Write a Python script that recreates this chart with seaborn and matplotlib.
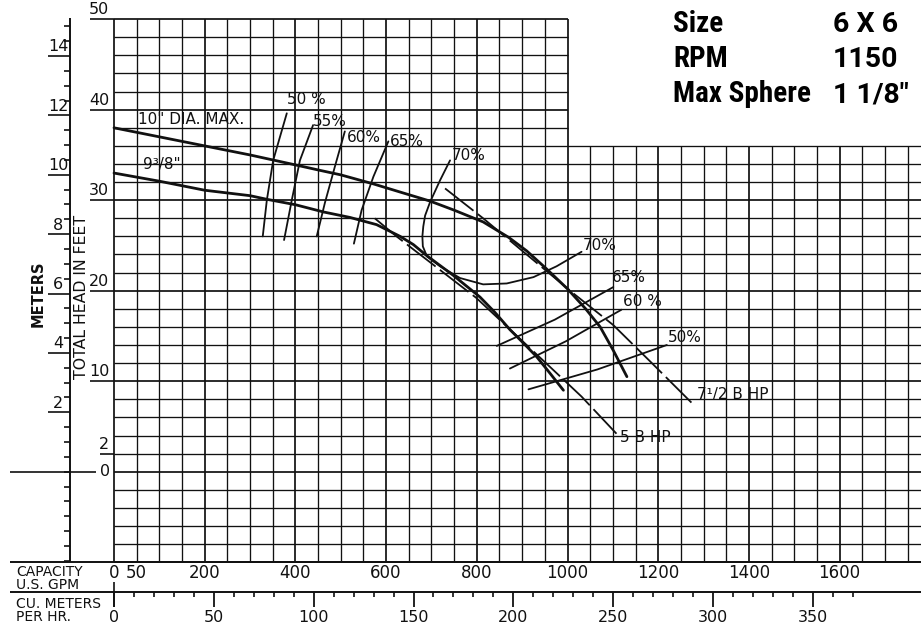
import numpy as np
import matplotlib
matplotlib.use("Agg")
import matplotlib.pyplot as plt
from matplotlib import font_manager as fm
import seaborn as sns

# ---------------- data (GPM, feet) ----------------
gpm_10 = [0, 100, 200, 300, 400, 454, 500, 572, 631, 697, 750, 814, 870, 910, 954, 1000, 1040, 1072, 1101, 1131]
head_10 = [38.0, 37.0, 36.0, 35.0, 33.9, 33.3, 32.8, 31.8, 30.9, 29.9, 28.9, 27.6, 25.9, 24.4, 22.4, 20.2, 18.0, 16.0, 13.4, 10.5]

gpm_938 = [0, 100, 200, 300, 337, 400, 462, 520, 579, 631, 660, 689, 748, 807, 840, 873, 905, 932, 961, 991]
head_938 = [33.0, 32.1, 31.1, 30.5, 30.1, 29.5, 28.7, 28.1, 27.3, 26.0, 25.1, 23.9, 21.7, 19.3, 17.6, 15.7, 14.1, 12.7, 10.9, 9.0]

eff50_gpm = [381, 351, 337, 328]
eff50_head = [39.6, 34.4, 30.0, 26.0]
eff55_gpm = [439, 410, 392, 375]
eff55_head = [38.3, 34.4, 30.0, 25.6]
eff60_gpm = [509, 487, 465, 447]
eff60_head = [37.6, 33.7, 29.7, 26.0]
eff65_gpm = [605, 572, 546, 529]
eff65_head = [36.5, 32.6, 28.9, 25.2]
eff70_gpm = [741, 719, 697, 686, 682, 680, 681, 690, 719, 763, 814, 866, 925, 976, 1031]
eff70_head = [34.4, 32.2, 29.8, 28.3, 27.1, 26.0, 24.9, 23.8, 22.7, 21.4, 20.7, 20.8, 21.5, 22.7, 24.3]

eff65r_gpm = [844, 972, 1101]
eff65r_head = [13.9, 16.8, 20.4]
eff60r_gpm = [873, 996, 1119]
eff60r_head = [11.4, 14.4, 17.9]
eff50r_gpm = [914, 1066, 1219]
eff50r_head = [9.1, 11.3, 14.0]

bhp75_gpm = [730, 814, 1013, 1101, 1182, 1274]
bhp75_head = [31.3, 28.0, 19.7, 16.2, 12.2, 7.6]
bhp5_gpm = [575, 623, 755, 799, 961, 1031, 1108]
bhp5_head = [28.0, 26.0, 20.9, 19.2, 11.6, 8.3, 4.2]

gpm_tick_labels = [0, 50, 200, 400, 600, 800, 1000, 1200, 1400, 1600]
feet_tick_labels = [50, 40, 30, 20, 10]
meter_tick_labels = [2, 4, 6, 8, 10, 12, 14]
m3h_tick_labels = [0, 50, 100, 150, 200, 250, 300, 350]

info_keys = ["Size", "RPM", "Max Sphere"]
info_vals = ["6 X 6", "1150", "1 1/8\""]

FT_PER_M = 3.2808
GPM_PER_M3H = 4.4029

# ---------------- layout helpers (pixel -> data) ----------------
def X(px):
    return (px - 114) / 0.4535

def Y(py):
    return (471.7 - py) / 9.05

sns.set_theme(style="white")
plt.rcParams["font.family"] = ["DejaVu Sans"]

# condensed bold face for the info block, if one is installed
_names = {f.name for f in fm.fontManager.ttflist}
if "Liberation Sans Narrow" in _names:
    info_family, info_size = "Liberation Sans Narrow", 22
elif "Roboto Condensed" in _names:
    info_family, info_size = "Roboto Condensed", 21
else:
    info_family, info_size = "Liberation Sans", 18.5
val_family = "Roboto" if "Roboto" in _names else "Liberation Sans"

fig = plt.figure(figsize=(9.21, 6.28), dpi=100)
ax = fig.add_axes([0, 0, 1, 1])
ax.set_xlim(X(0), X(921))
ax.set_ylim(Y(628), Y(0))
ax.axis("off")

INK = "#111111"
GMAX = X(921)

# grid
for g in range(0, 1800, 50):
    if g > GMAX:
        continue
    top = 50 if g <= 1000 else 36
    lw = 1.25 if g % 200 == 0 else 0.95
    ax.vlines(g, -10, top, color=INK, lw=lw, zorder=1)
for h in range(-10, 51, 2):
    right = GMAX if h <= 36 else 1000
    lw = 1.25 if h % 10 == 0 else 0.95
    ax.hlines(h, 0, right, color=INK, lw=lw, zorder=1)

# feet labels
for f in feet_tick_labels:
    ax.hlines(f, X(90), 0, color=INK, lw=1.2)
    ax.text(X(99), f + 1.05, str(f), ha="center", va="center", fontsize=11.5, color=INK)
ax.hlines(2, X(100), 0, color=INK, lw=1.2)
ax.text(X(104), 3.05, "2", ha="center", va="center", fontsize=11.5, color=INK)
ax.hlines(0, X(10), X(96), color=INK, lw=1.2)
ax.text(X(105), 0, "0", ha="center", va="center", fontsize=11.5, color=INK)

# meter axis
ax.vlines(X(70), -10, Y(18), color=INK, lw=1.4)
for m in np.arange(-3.0, 15.01, 0.5):
    yf = m * FT_PER_M
    if yf < -10:
        continue
    if m in meter_tick_labels:
        ax.hlines(yf, X(48), X(70), color=INK, lw=1.2)
        ax.text(X(58), yf + 1.0, str(int(m)), ha="center", va="center", fontsize=11.5, color=INK)
    else:
        ax.hlines(yf, X(64), X(70), color=INK, lw=1.2)

ax.text(X(38), Y(294), "METERS", rotation=90, ha="center", va="center",
        fontsize=10.5, fontweight="bold", color=INK)
ax.text(X(81), Y(297), "TOTAL HEAD IN FEET", rotation=90, ha="center", va="center",
        fontsize=11.3, color=INK)

# bottom scales
ax.hlines(-10, X(10), X(921), color=INK, lw=1.4)
ax.hlines(Y(592), X(10), X(921), color=INK, lw=1.4)
ax.vlines(0, Y(607), Y(582), color=INK, lw=1.2)
for g in gpm_tick_labels:
    ax.text(g, Y(573), str(g), ha="center", va="center", fontsize=12, color=INK)
for q in range(0, 371, 10):
    gx = q * GPM_PER_M3H
    if q % 50 == 0:
        ax.vlines(gx, Y(607), Y(592), color=INK, lw=1.3)
    else:
        ax.vlines(gx, Y(597), Y(592), color=INK, lw=1.2)
for q in m3h_tick_labels:
    ax.text(q * GPM_PER_M3H, Y(617), str(q), ha="center", va="center", fontsize=11.5, color=INK)

side = dict(ha="left", va="center", fontsize=10, color=INK, linespacing=0.95)
ax.text(X(16), Y(578.5), "CAPACITY\nU.S. GPM", **side)
ax.text(X(16), Y(610.5), "CU. METERS\nPER HR.", **side)

# ---------------- curves ----------------
def curve(xs, ys, lw, dashed=False):
    sns.lineplot(x=xs, y=ys, ax=ax, sort=False, estimator=None, color=INK, lw=lw, zorder=3)
    ln = ax.lines[-1]
    ln.set_solid_capstyle("round")
    if dashed:
        ln.set_dashes((20, 3))

curve(gpm_10, head_10, 2.0)
curve(gpm_938, head_938, 2.0)
for xs, ys in [(eff50_gpm, eff50_head), (eff55_gpm, eff55_head), (eff60_gpm, eff60_head),
               (eff65_gpm, eff65_head), (eff70_gpm, eff70_head), (eff65r_gpm, eff65r_head),
               (eff60r_gpm, eff60r_head), (eff50r_gpm, eff50r_head)]:
    curve(xs, ys, 1.3)
curve(bhp75_gpm, bhp75_head, 1.3, dashed=True)
curve(bhp5_gpm, bhp5_head, 1.3, dashed=True)

# curve labels
lab = dict(ha="left", va="center", fontsize=11, color=INK, zorder=4)
ax.text(X(138), Y(120), '10" DIA. MAX.', **lab)
ax.text(X(143), Y(165), '9³/8"', **lab)
ax.text(X(287), Y(100), "50 %", **lab)
ax.text(X(313), Y(121), "55%", **lab)
ax.text(X(347), Y(137), "60%", **lab)
ax.text(X(390), Y(141), "65%", **lab)
ax.text(X(452), Y(155), "70%", **lab)
ax.text(X(583), Y(246), "70%", **lab)
ax.text(X(612), Y(277), "65%", **lab)
ax.text(X(623), Y(302), "60 %", **lab)
ax.text(X(668), Y(338), "50%", **lab)
ax.text(X(697), Y(395), "7¹/2 B HP", **lab)
ax.text(X(620), Y(437), "5 B HP", **lab)

# info block
for i, (k, v) in enumerate(zip(info_keys, info_vals)):
    yb = Y(32 + i * 35)
    ax.text(X(673), yb, k, ha="left", va="baseline", fontsize=info_size, fontweight="bold",
            family=[info_family, "DejaVu Sans"], color="black")
    ax.text(X(833), yb, v, ha="left", va="baseline", fontsize=20.5, fontweight="bold",
            family=[val_family, "DejaVu Sans"], color="black")

fig.savefig("out.png", dpi=100, facecolor="white")
